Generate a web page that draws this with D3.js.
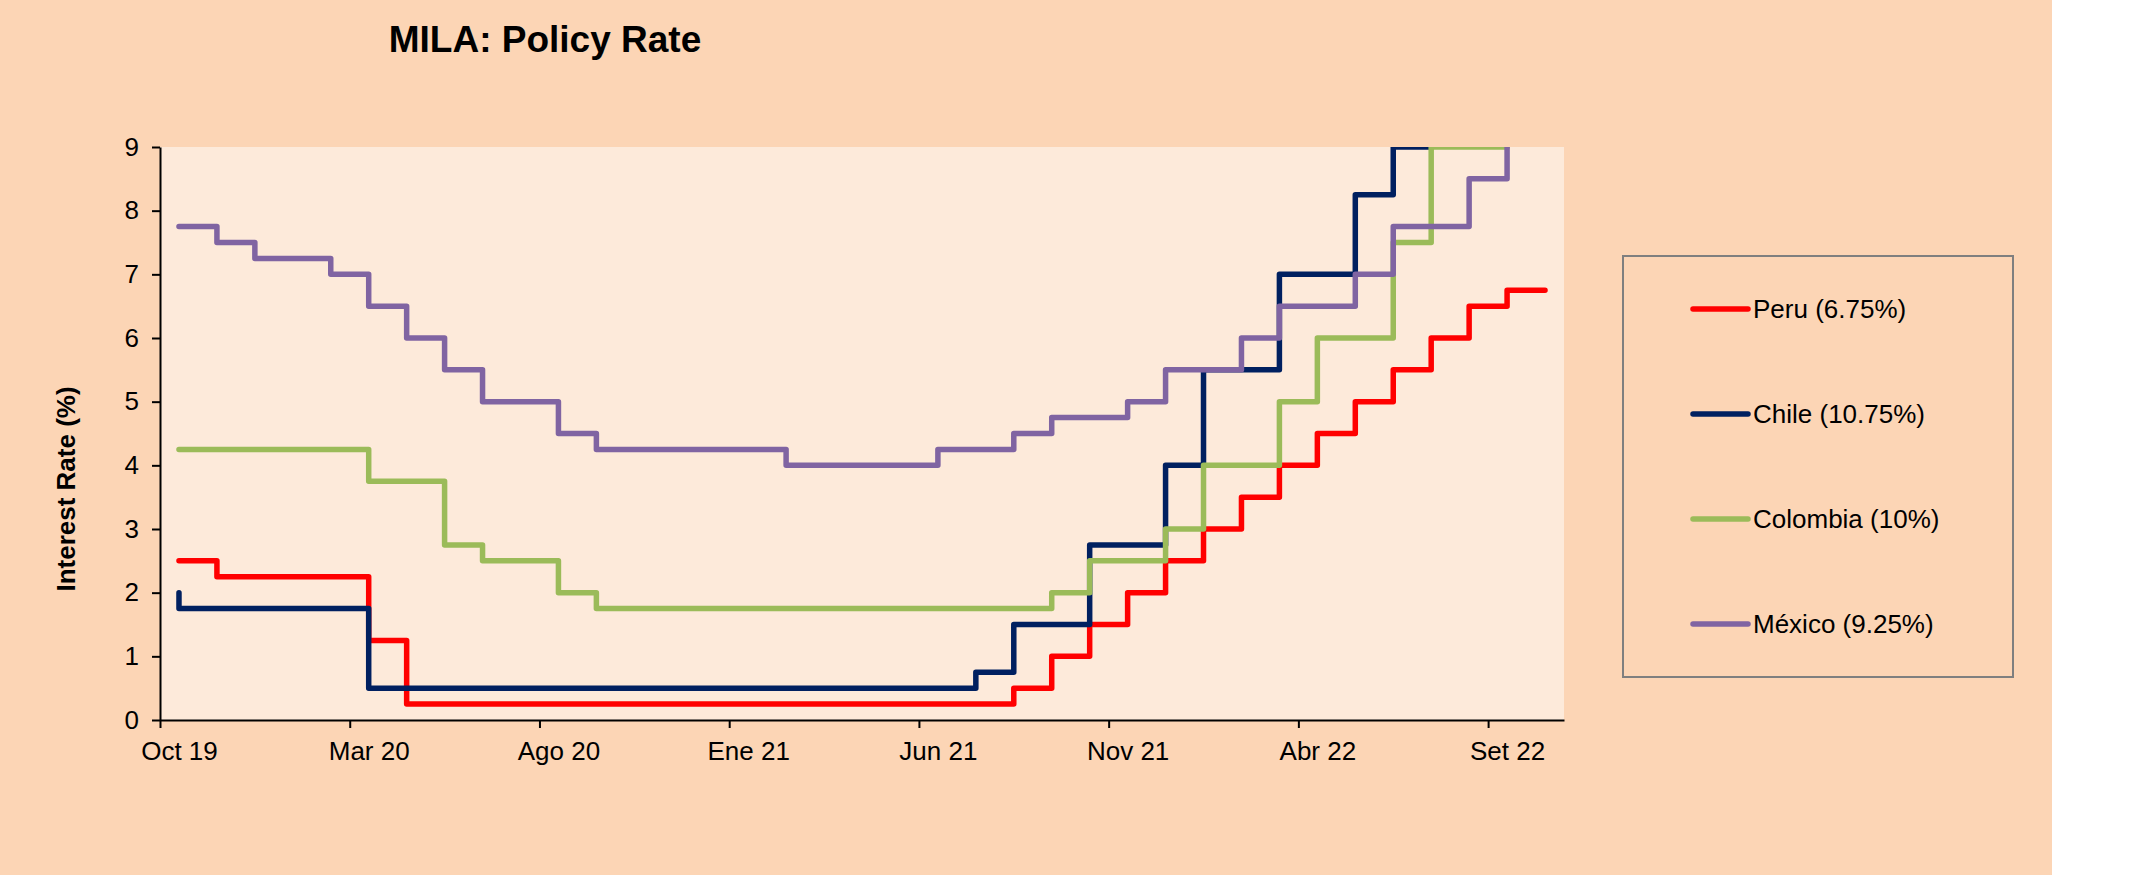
<!DOCTYPE html>
<html>
<head>
<meta charset="utf-8">
<script src="https://cdn.jsdelivr.net/npm/d3@7"></script>
<style>
    body { margin: 0; background: #ffffff; }
    text { font-family: "Liberation Sans", Arial, sans-serif; }
</style>
</head>
<body>
<div id="chart"></div>
<script>
// monthly policy rates: first value is the starting level (Sep 19), then Oct 19 ... Sep 22
let peru = [2.5, 2.5, 2.25, 2.25, 2.25, 2.25, 1.25,
    0.25, 0.25, 0.25, 0.25, 0.25, 0.25, 0.25, 0.25, 0.25, 0.25, 0.25, 0.25, 0.25, 0.25, 0.25, 0.25,
    0.5, 1.0, 1.5, 2.0, 2.5, 3.0, 3.5, 4.0, 4.5, 5.0, 5.5, 6.0, 6.5, 6.75]
let chile = [2.0, 1.75, 1.75, 1.75, 1.75, 1.75,
    0.5, 0.5, 0.5, 0.5, 0.5, 0.5, 0.5, 0.5, 0.5, 0.5, 0.5, 0.5, 0.5, 0.5, 0.5, 0.5,
    0.75, 1.5, 1.5, 2.75, 2.75, 4.0, 5.5, 5.5, 7.0, 7.0, 8.25, 9.0, 9.75, 9.75, 10.75]
let colombia = [4.25, 4.25, 4.25, 4.25, 4.25, 4.25, 3.75, 3.75, 2.75, 2.5, 2.5, 2.0,
    1.75, 1.75, 1.75, 1.75, 1.75, 1.75, 1.75, 1.75, 1.75, 1.75, 1.75, 1.75,
    2.0, 2.5, 2.5, 3.0, 4.0, 4.0, 5.0, 6.0, 6.0, 7.5, 9.0, 9.0, 10.0]
let mexico = [7.75, 7.75, 7.5, 7.25, 7.25, 7.0, 6.5, 6.0, 5.5, 5.0, 5.0, 4.5,
    4.25, 4.25, 4.25, 4.25, 4.25, 4.0, 4.0, 4.0, 4.0, 4.25, 4.25, 4.5,
    4.75, 4.75, 5.0, 5.5, 5.5, 6.0, 6.5, 6.5, 7.0, 7.75, 7.75, 8.5, 9.25]

let seriesNames = ["Peru (6.75%)", "Chile (10.75%)", "Colombia (10%)", "México (9.25%)"]
let seriesColors = ["#ff0000", "#002060", "#9bbb59", "#8064a2"]
let seriesValues = [peru, chile, colombia, mexico]

let tickMonths = [0, 5, 10, 15, 20, 25, 30, 35]
let tickLabels = ["Oct 19", "Mar 20", "Ago 20", "Ene 21", "Jun 21", "Nov 21", "Abr 22", "Set 22"]
let yTicks = [0, 1, 2, 3, 4, 5, 6, 7, 8, 9]

let W = 2131, H = 875
let plot = {left: 160, right: 1564, top: 147, bottom: 720}

let svg = d3.select("#chart").append("svg")
    .attr("width", W)
    .attr("height", H)

// backgrounds
svg.append("rect")
    .attr("x", 0).attr("y", 0)
    .attr("width", 2052).attr("height", H)
    .attr("fill", "#fcd5b5")

svg.append("rect")
    .attr("x", plot.left).attr("y", plot.top)
    .attr("width", plot.right - plot.left)
    .attr("height", plot.bottom - plot.top)
    .attr("fill", "#fdeada")

// scales (x in month units, 37 months on the axis)
let x = d3.scaleLinear()
    .domain([0, 37])
    .range([plot.left, plot.right])

let y = d3.scaleLinear()
    .domain([0, 9])
    .range([plot.bottom, plot.top])

svg.append("clipPath")
    .attr("id", "plot-clip")
    .append("rect")
    .attr("x", plot.left).attr("y", plot.top)
    .attr("width", plot.right - plot.left)
    .attr("height", plot.bottom - plot.top)

let line = d3.line()
    .curve(d3.curveStepBefore)
    .x((d, i) => x(i + 0.5))
    .y(d => y(d))

svg.append("g")
    .attr("clip-path", "url(#plot-clip)")
    .selectAll(".rate")
    .data(seriesValues)
    .enter().append("path")
    .attr("class", "rate")
    .attr("d", d => line(d))
    .attr("fill", "none")
    .attr("stroke", (d, i) => seriesColors[i])
    .attr("stroke-width", 5.5)
    .attr("stroke-linejoin", "round")
    .attr("stroke-linecap", "round")

// axes
let xAxis = d3.axisBottom(x)
    .tickValues(tickMonths)
    .tickFormat((d, i) => tickLabels[i])
    .tickSize(8)
    .tickSizeOuter(0)
    .tickPadding(14)

let yAxis = d3.axisLeft(y)
    .tickValues(yTicks)
    .tickFormat(d3.format("d"))
    .tickSize(8)
    .tickSizeOuter(0)
    .tickPadding(13)

let gx = svg.append("g")
    .attr("class", "x-axis axis")
    .attr("transform", "translate(0," + plot.bottom + ")")
    .call(xAxis)

// labels sit in the middle of their month
gx.selectAll(".tick text")
    .attr("x", x(0.5) - x(0))

let gy = svg.append("g")
    .attr("class", "y-axis axis")
    .attr("transform", "translate(" + plot.left + ",0)")
    .call(yAxis)

svg.selectAll(".axis path, .axis line")
    .attr("stroke", "#000")
    .attr("stroke-width", 2)

svg.selectAll(".axis text")
    .attr("font-size", 26)
    .attr("font-family", "Liberation Sans, Arial, sans-serif")
    .attr("fill", "#000")

// titles
svg.append("text")
    .attr("x", 545)
    .attr("y", 52)
    .attr("text-anchor", "middle")
    .attr("font-size", 37)
    .attr("font-weight", "bold")
    .text("MILA: Policy Rate")

svg.append("text")
    .attr("transform", "translate(75,489) rotate(-90)")
    .attr("text-anchor", "middle")
    .attr("font-size", 26)
    .attr("font-weight", "bold")
    .text("Interest Rate (%)")

// legend
let legend = svg.append("g")
    .attr("class", "legend")

legend.append("rect")
    .attr("x", 1623).attr("y", 256)
    .attr("width", 390).attr("height", 421)
    .attr("fill", "none")
    .attr("stroke", "#7f7f7f")
    .attr("stroke-width", 2)

let items = legend.selectAll(".legend-item")
    .data(seriesNames)
    .enter().append("g")
    .attr("class", "legend-item")
    .attr("transform", (d, i) => `translate(1693, ${309 + i * 105})`)

items.append("line")
    .attr("x1", 0).attr("x2", 55)
    .attr("y1", 0).attr("y2", 0)
    .attr("stroke", (d, i) => seriesColors[i])
    .attr("stroke-width", 5.5)
    .attr("stroke-linecap", "round")

items.append("text")
    .attr("x", 60)
    .attr("y", 0)
    .attr("dy", "0.35em")
    .attr("font-size", 26)
    .text(d => d)
</script>
</body>
</html>
